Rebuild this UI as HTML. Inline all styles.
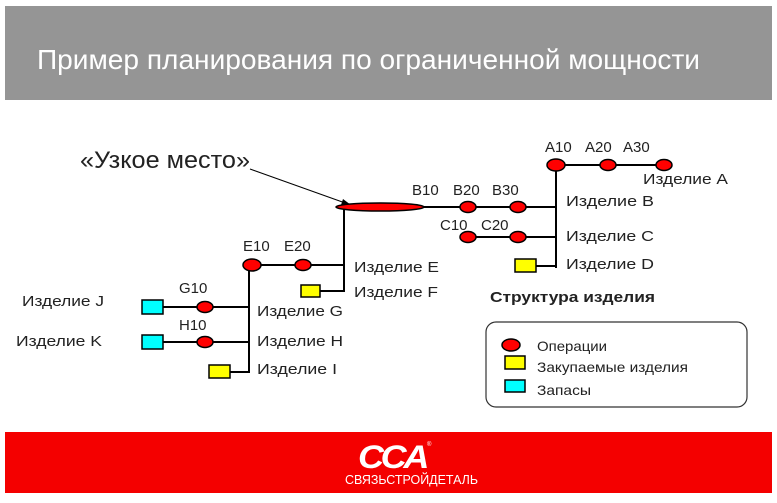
<!DOCTYPE html>
<html><head><meta charset="utf-8"><style>
body{margin:0;width:777px;height:498px;background:#fff;overflow:hidden}
svg text{font-family:"Liberation Sans",sans-serif}
</style></head><body>
<svg width="777" height="498" xmlns="http://www.w3.org/2000/svg">
<rect x="5" y="6" width="767" height="94" fill="#959595"/>
<text x="37" y="69" font-size="28" fill="#fff" textLength="663" lengthAdjust="spacingAndGlyphs">Пример планирования по ограниченной мощности</text>
<rect x="5" y="432" width="767" height="61" fill="#f40000"/>
<text x="358" y="468" font-size="32" font-weight="bold" fill="#fff" font-style="italic" letter-spacing="-3" textLength="68" lengthAdjust="spacingAndGlyphs">CCA</text>
<text x="427" y="446" font-size="6" fill="#fff">®</text>
<text x="345" y="484" font-size="13" fill="#fff" textLength="133" lengthAdjust="spacingAndGlyphs">СВЯЗЬСТРОЙДЕТАЛЬ</text>
<g stroke="#000" stroke-width="2" fill="none">
<line x1="556" y1="165" x2="556" y2="268"/>
<line x1="556" y1="165" x2="664" y2="165"/>
<line x1="380" y1="207" x2="556" y2="207"/>
<line x1="466" y1="237" x2="556" y2="237"/>
<line x1="536" y1="266" x2="556" y2="266"/>
<line x1="344" y1="207" x2="344" y2="292"/>
<line x1="252" y1="265" x2="344" y2="265"/>
<line x1="320" y1="291" x2="344" y2="291"/>
<line x1="249" y1="265" x2="249" y2="373"/>
<line x1="163" y1="307" x2="249" y2="307"/>
<line x1="163" y1="342" x2="249" y2="342"/>
<line x1="230" y1="372" x2="249" y2="372"/>
</g>
<line x1="250" y1="169" x2="348" y2="204" stroke="#000" stroke-width="1"/>
<polygon points="351,205 343,199 341,205" fill="#000"/>
<g fill="#f00" stroke="#000" stroke-width="1.5">
<ellipse cx="380" cy="207" rx="44" ry="4"/>
<ellipse cx="468" cy="207" rx="8" ry="5.5"/>
<ellipse cx="518" cy="207" rx="8" ry="5.5"/>
<ellipse cx="556" cy="165" rx="9" ry="6"/>
<ellipse cx="608" cy="165" rx="8" ry="5.5"/>
<ellipse cx="664" cy="165" rx="8" ry="5.5"/>
<ellipse cx="468" cy="237" rx="8" ry="5.5"/>
<ellipse cx="518" cy="237" rx="8" ry="5.5"/>
<ellipse cx="252" cy="265" rx="9" ry="6"/>
<ellipse cx="303" cy="265" rx="8" ry="5.5"/>
<ellipse cx="205" cy="307" rx="8" ry="5.5"/>
<ellipse cx="205" cy="342" rx="8" ry="5.5"/>
<ellipse cx="511" cy="345" rx="9" ry="6"/>
</g>
<g fill="#ff0" stroke="#000" stroke-width="1.5">
<rect x="515" y="259" width="21" height="13"/>
<rect x="301" y="285" width="19" height="12"/>
<rect x="209" y="365" width="21" height="13"/>
<rect x="505" y="356" width="20" height="13"/>
</g>
<g fill="#0ff" stroke="#000" stroke-width="1.5">
<rect x="142" y="300" width="21" height="14"/>
<rect x="142" y="335" width="21" height="14"/>
<rect x="505" y="380" width="20" height="12"/>
</g>
<rect x="486" y="322" width="261" height="85" rx="10" fill="none" stroke="#333" stroke-width="1.2"/>
<g font-size="15" fill="#222">
<text x="545" y="152">A10</text><text x="585" y="152">A20</text><text x="623" y="152">A30</text>
<text x="643" y="184" textLength="85" lengthAdjust="spacingAndGlyphs">Изделие A</text>
<text x="412" y="195">B10</text><text x="453" y="195">B20</text><text x="492" y="195">B30</text>
<text x="440" y="230">C10</text><text x="481" y="230">C20</text>
<text x="566" y="206" textLength="88" lengthAdjust="spacingAndGlyphs">Изделие B</text>
<text x="566" y="241" textLength="88" lengthAdjust="spacingAndGlyphs">Изделие C</text>
<text x="566" y="269" textLength="88" lengthAdjust="spacingAndGlyphs">Изделие D</text>
<text x="243" y="251">E10</text><text x="284" y="251">E20</text>
<text x="354" y="272" textLength="85" lengthAdjust="spacingAndGlyphs">Изделие E</text>
<text x="354" y="297" textLength="84" lengthAdjust="spacingAndGlyphs">Изделие F</text>
<text x="179" y="293">G10</text><text x="179" y="330">H10</text>
<text x="257" y="316" textLength="86" lengthAdjust="spacingAndGlyphs">Изделие G</text>
<text x="257" y="346" textLength="86" lengthAdjust="spacingAndGlyphs">Изделие H</text>
<text x="257" y="374" textLength="80" lengthAdjust="spacingAndGlyphs">Изделие I</text>
<text x="22" y="306" textLength="82" lengthAdjust="spacingAndGlyphs">Изделие J</text>
<text x="16" y="346" textLength="86" lengthAdjust="spacingAndGlyphs">Изделие K</text>
</g>
<text x="490" y="302" font-size="15" font-weight="bold" fill="#222" textLength="165" lengthAdjust="spacingAndGlyphs">Структура изделия</text>
<text x="80" y="168" font-size="24" fill="#222" textLength="170" lengthAdjust="spacingAndGlyphs">«Узкое место»</text>
<g font-size="14" fill="#222">
<text x="537" y="351" textLength="70" lengthAdjust="spacingAndGlyphs">Операции</text>
<text x="537" y="372" textLength="151" lengthAdjust="spacingAndGlyphs">Закупаемые изделия</text>
<text x="537" y="395" textLength="54" lengthAdjust="spacingAndGlyphs">Запасы</text>
</g>
</svg>
</body></html>
